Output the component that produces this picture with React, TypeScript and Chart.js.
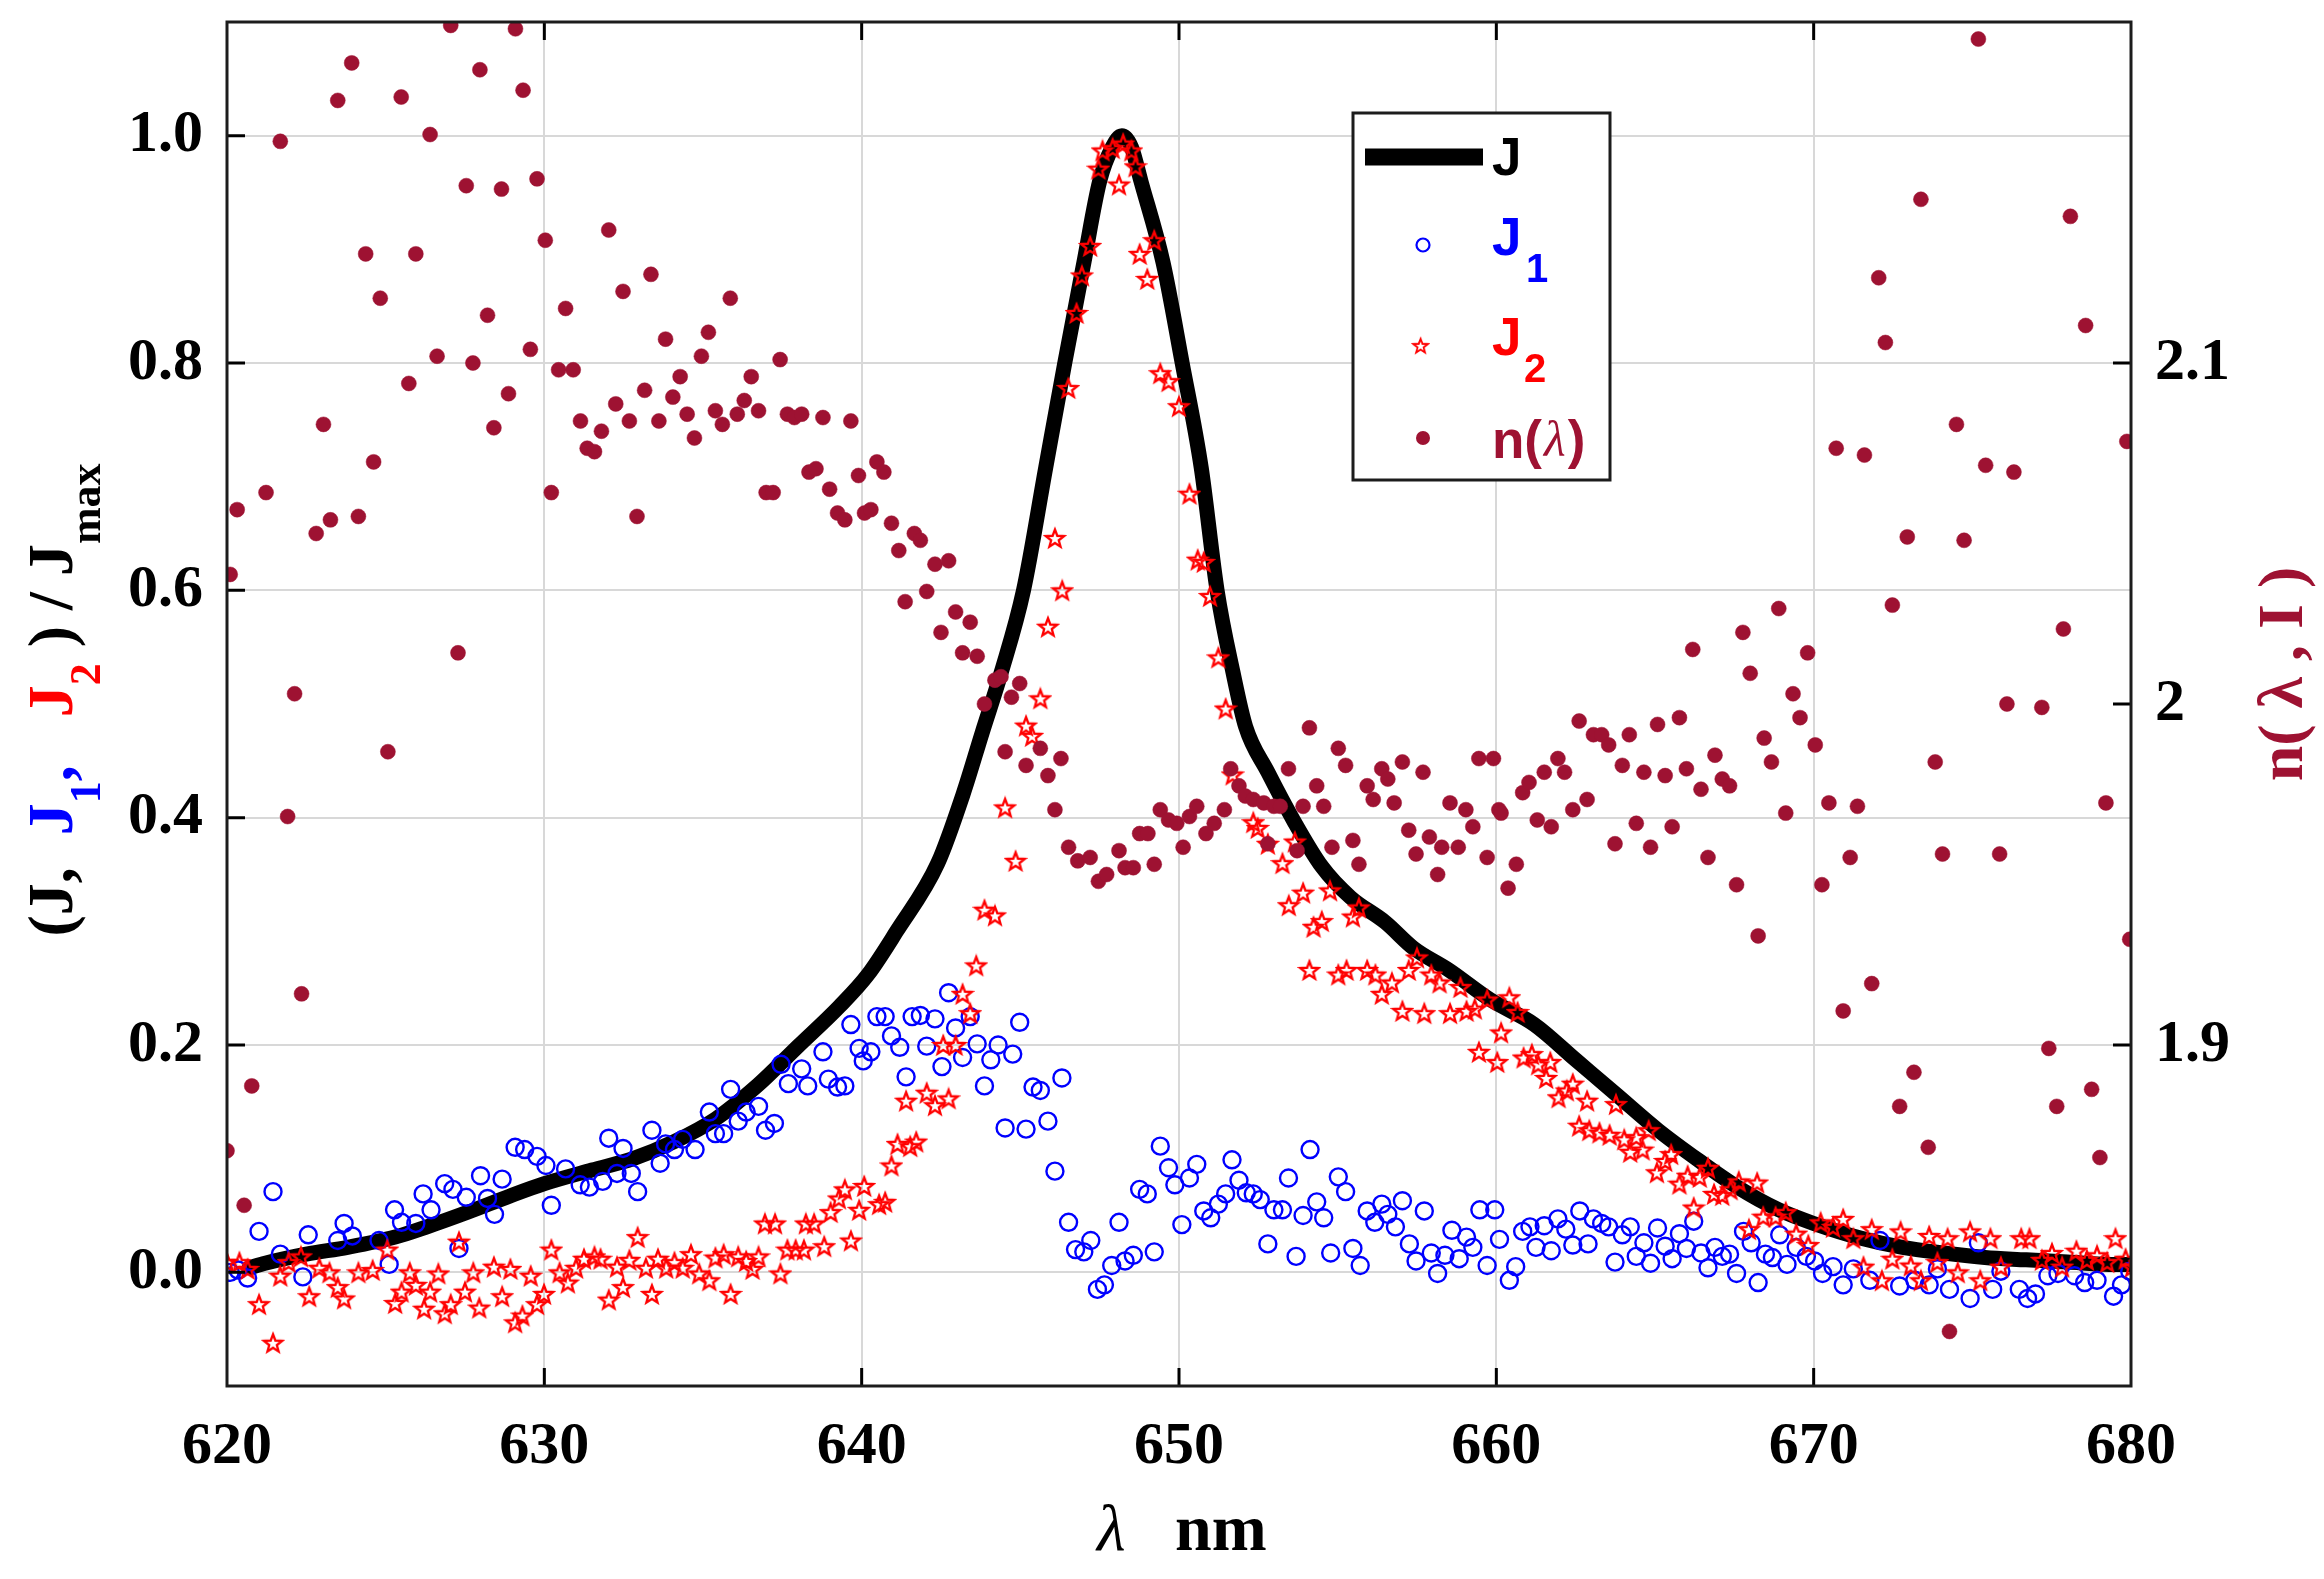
import { useEffect, useRef } from 'react';
import { Chart, registerables } from 'chart.js';

Chart.register(...registerables);

// J / Jmax
const J_CURVE: [number, number][] = [
  [620.7, 0.004], [621.2, 0.008], [622.5, 0.016], [623.8, 0.022], [625.3, 0.031], [626.3, 0.040],
  [627.6, 0.053], [628.9, 0.067], [630.0, 0.078], [631.5, 0.090], [632.8, 0.100], [634.1, 0.115],
  [635.4, 0.135], [636.7, 0.164], [638.0, 0.199], [639.3, 0.234], [640.2, 0.262], [641.1, 0.300],
  [642.4, 0.360], [643.2, 0.421], [643.8, 0.475], [644.4, 0.528], [645.1, 0.600], [645.8, 0.708],
  [646.4, 0.800], [647.0, 0.888], [647.5, 0.960], [647.9, 0.990], [648.2, 1.000], [648.5, 0.990],
  [648.8, 0.960], [649.5, 0.888], [650.1, 0.800], [650.7, 0.708], [651.2, 0.600], [651.7, 0.528],
  [652.1, 0.480], [652.8, 0.440], [653.6, 0.398], [654.5, 0.357], [655.4, 0.330], [656.5, 0.308],
  [657.4, 0.285], [658.5, 0.266], [659.8, 0.240], [661.2, 0.218], [662.5, 0.187], [663.8, 0.156],
  [665.1, 0.125], [666.4, 0.098], [667.6, 0.075], [668.9, 0.055], [670.0, 0.043], [671.5, 0.030],
  [672.8, 0.022], [674.1, 0.017], [675.4, 0.013], [676.7, 0.011], [678.0, 0.009], [679.3, 0.007],
  [680.0, 0.007],
];

// J1 / Jmax (blue open circles)
const J1_POINTS: [number, number][] = [
  [620.1, 0.000], [620.35, 0.002], [620.65, -0.005], [621.01, 0.036], [621.45, 0.071], [621.68, 0.016],
  [622.39, -0.004], [622.56, 0.033], [623.49, 0.028], [623.69, 0.043], [623.95, 0.032], [624.79, 0.028],
  [625.11, 0.007], [625.28, 0.055], [625.5, 0.044], [625.95, 0.043], [626.18, 0.069], [626.43, 0.055],
  [626.86, 0.078], [627.12, 0.073], [627.31, 0.021], [627.54, 0.066], [627.99, 0.085], [628.21, 0.065],
  [628.43, 0.051], [628.67, 0.082], [629.08, 0.110], [629.38, 0.108], [629.77, 0.102], [630.05, 0.094],
  [630.22, 0.059], [630.67, 0.091], [631.13, 0.077], [631.42, 0.075], [631.84, 0.080], [632.03, 0.118],
  [632.29, 0.087], [632.48, 0.109], [632.74, 0.087], [632.94, 0.071], [633.39, 0.125], [633.65, 0.096],
  [633.82, 0.113], [634.1, 0.108], [634.36, 0.117], [634.75, 0.108], [635.2, 0.141], [635.39, 0.122],
  [635.65, 0.122], [635.87, 0.161], [636.11, 0.133], [636.36, 0.141], [636.75, 0.146], [636.97, 0.125],
  [637.25, 0.131], [637.46, 0.183], [637.69, 0.166], [638.11, 0.179], [638.3, 0.164], [638.78, 0.194],
  [638.95, 0.170], [639.24, 0.163], [639.47, 0.164], [639.66, 0.218], [639.92, 0.197], [640.05, 0.186],
  [640.29, 0.194], [640.48, 0.225], [640.74, 0.225], [640.94, 0.208], [641.2, 0.198], [641.4, 0.172],
  [641.59, 0.225], [641.85, 0.226], [642.05, 0.199], [642.31, 0.223], [642.53, 0.181], [642.74, 0.246],
  [642.96, 0.215], [643.18, 0.189], [643.42, 0.225], [643.64, 0.201], [643.87, 0.164], [644.07, 0.187],
  [644.3, 0.200], [644.52, 0.127], [644.76, 0.192], [644.98, 0.220], [645.18, 0.126], [645.4, 0.163],
  [645.63, 0.160], [645.87, 0.133], [646.09, 0.089], [646.31, 0.171], [646.52, 0.044], [646.74, 0.020],
  [647.0, 0.018], [647.22, 0.028], [647.43, -0.015], [647.65, -0.011], [647.88, 0.006], [648.11, 0.044],
  [648.3, 0.010], [648.56, 0.015], [648.76, 0.073], [649.0, 0.069], [649.22, 0.018], [649.41, 0.111],
  [649.67, 0.092], [649.87, 0.077], [650.09, 0.042], [650.33, 0.083], [650.56, 0.095], [650.78, 0.054],
  [651.0, 0.048], [651.24, 0.060], [651.47, 0.069], [651.67, 0.099], [651.89, 0.081], [652.12, 0.070],
  [652.34, 0.069], [652.56, 0.064], [652.8, 0.025], [652.99, 0.055], [653.26, 0.055], [653.45, 0.083],
  [653.69, 0.014], [653.91, 0.050], [654.13, 0.108], [654.34, 0.062], [654.56, 0.048], [654.78, 0.017],
  [655.02, 0.084], [655.25, 0.071], [655.48, 0.021], [655.71, 0.006], [655.93, 0.054], [656.17, 0.044],
  [656.39, 0.060], [656.58, 0.051], [656.82, 0.040], [657.04, 0.063], [657.26, 0.025], [657.47, 0.010],
  [657.73, 0.054], [657.95, 0.017], [658.15, -0.001], [658.38, 0.015], [658.6, 0.037], [658.83, 0.012],
  [659.06, 0.031], [659.26, 0.022], [659.48, 0.055], [659.71, 0.006], [659.95, 0.055], [660.1, 0.029],
  [660.41, -0.007], [660.61, 0.005], [660.83, 0.036], [661.06, 0.040], [661.25, 0.022], [661.51, 0.041],
  [661.73, 0.019], [661.94, 0.047], [662.19, 0.038], [662.41, 0.024], [662.63, 0.054], [662.89, 0.025],
  [663.06, 0.047], [663.32, 0.043], [663.54, 0.040], [663.74, 0.009], [663.97, 0.033], [664.22, 0.040],
  [664.41, 0.014], [664.65, 0.026], [664.86, 0.008], [665.08, 0.039], [665.32, 0.023], [665.54, 0.012],
  [665.77, 0.034], [665.99, 0.021], [666.22, 0.045], [666.45, 0.017], [666.67, 0.004], [666.89, 0.022],
  [667.12, 0.014], [667.35, 0.016], [667.57, -0.001], [667.79, 0.036], [668.03, 0.026], [668.25, -0.009],
  [668.48, 0.016], [668.7, 0.013], [668.93, 0.033], [669.16, 0.007], [669.45, 0.022], [669.77, 0.014],
  [670.03, 0.010], [670.28, -0.001], [670.61, 0.005], [670.93, -0.011], [671.25, 0.003], [671.77, -0.007],
  [672.09, 0.028], [672.71, -0.012], [673.19, -0.007], [673.64, -0.011], [673.9, 0.003], [674.28, -0.015],
  [674.93, -0.023], [675.19, 0.026], [675.64, -0.015], [675.9, 0.001], [676.48, -0.015], [676.74, -0.023],
  [676.99, -0.019], [677.38, -0.003], [677.7, -0.001], [678.22, -0.003], [678.54, -0.009], [678.93, -0.007],
  [679.45, -0.021], [679.7, -0.011], [679.96, 0.001],
];

// J2 / Jmax (red open pentagrams)
const J2_POINTS: [number, number][] = [
  [620.0, 0.009], [620.39, 0.009], [620.65, 0.003], [621.01, -0.028], [621.45, -0.062], [621.68, -0.003],
  [621.94, 0.009], [622.33, 0.014], [622.59, -0.021], [622.91, 0.004], [623.23, 0.000], [623.49, -0.013],
  [623.69, -0.023], [624.14, 0.000], [624.59, 0.002], [625.05, 0.020], [625.3, -0.027], [625.5, -0.017],
  [625.76, 0.000], [625.95, -0.011], [626.21, -0.032], [626.4, -0.017], [626.66, -0.001], [626.86, -0.036],
  [627.05, -0.028], [627.31, 0.027], [627.5, -0.017], [627.76, 0.000], [627.95, -0.031], [628.41, 0.005],
  [628.67, -0.021], [628.93, 0.003], [629.08, -0.044], [629.31, -0.038], [629.57, -0.003], [629.77, -0.028],
  [629.99, -0.019], [630.22, 0.020], [630.48, 0.000], [630.74, -0.009], [631.0, 0.004], [631.25, 0.012],
  [631.58, 0.014], [631.77, 0.012], [632.03, -0.024], [632.29, 0.005], [632.48, -0.013], [632.68, 0.011],
  [632.94, 0.031], [633.2, 0.004], [633.39, -0.019], [633.58, 0.012], [633.84, 0.004], [634.1, 0.009],
  [634.36, 0.004], [634.62, 0.016], [634.88, -0.001], [635.2, -0.007], [635.39, 0.013], [635.65, 0.016],
  [635.87, -0.019], [636.11, 0.014], [636.36, 0.010], [636.56, 0.003], [636.75, 0.014], [636.95, 0.043],
  [637.27, 0.043], [637.44, -0.001], [637.66, 0.020], [637.92, 0.020], [638.18, 0.020], [638.24, 0.043],
  [638.5, 0.043], [638.82, 0.023], [639.02, 0.053], [639.28, 0.065], [639.47, 0.073], [639.66, 0.028],
  [639.92, 0.055], [640.08, 0.076], [640.55, 0.060], [640.74, 0.062], [640.94, 0.094], [641.13, 0.113],
  [641.4, 0.151], [641.53, 0.111], [641.72, 0.115], [642.05, 0.158], [642.31, 0.147], [642.57, 0.200],
  [642.74, 0.153], [642.96, 0.200], [643.18, 0.245], [643.42, 0.228], [643.61, 0.270], [643.87, 0.319],
  [644.2, 0.314], [644.52, 0.409], [644.85, 0.362], [645.18, 0.481], [645.37, 0.472], [645.63, 0.505],
  [645.87, 0.568], [646.09, 0.646], [646.32, 0.600], [646.51, 0.778], [646.77, 0.844], [646.94, 0.877],
  [647.2, 0.903], [647.46, 0.971], [647.59, 0.987], [647.91, 0.989], [648.11, 0.957], [648.24, 0.993],
  [648.5, 0.987], [648.63, 0.973], [648.76, 0.896], [649.0, 0.874], [649.22, 0.908], [649.41, 0.791],
  [649.67, 0.784], [650.0, 0.762], [650.33, 0.685], [650.59, 0.627], [650.78, 0.625], [650.98, 0.595],
  [651.24, 0.541], [651.47, 0.496], [651.69, 0.438], [652.34, 0.396], [652.48, 0.391], [652.8, 0.377],
  [653.26, 0.360], [653.46, 0.323], [653.65, 0.379], [653.91, 0.334], [654.11, 0.266], [654.24, 0.304],
  [654.5, 0.309], [654.76, 0.336], [655.02, 0.262], [655.28, 0.266], [655.48, 0.313], [655.67, 0.321],
  [655.93, 0.266], [656.19, 0.262], [656.39, 0.245], [656.71, 0.255], [657.04, 0.230], [657.24, 0.266],
  [657.5, 0.277], [657.73, 0.228], [657.95, 0.262], [658.21, 0.255], [658.54, 0.228], [658.87, 0.251],
  [659.06, 0.230], [659.32, 0.232], [659.45, 0.194], [659.71, 0.240], [660.03, 0.185], [660.15, 0.211],
  [660.41, 0.242], [660.67, 0.229], [660.86, 0.189], [661.12, 0.192], [661.32, 0.183], [661.57, 0.171],
  [661.7, 0.185], [661.96, 0.154], [662.22, 0.160], [662.41, 0.166], [662.61, 0.129], [662.86, 0.151],
  [662.93, 0.125], [663.25, 0.123], [663.57, 0.121], [663.77, 0.148], [664.03, 0.117], [664.22, 0.106],
  [664.41, 0.119], [664.61, 0.108], [664.8, 0.125], [665.06, 0.088], [665.32, 0.098], [665.51, 0.104],
  [665.77, 0.078], [666.03, 0.085], [666.22, 0.057], [666.41, 0.084], [666.67, 0.092], [666.86, 0.069],
  [667.12, 0.068], [667.38, 0.073], [667.64, 0.080], [667.96, 0.038], [668.22, 0.079], [668.41, 0.049],
  [668.8, 0.049], [669.12, 0.053], [669.45, 0.034], [669.83, 0.024], [670.22, 0.044], [670.61, 0.040],
  [670.93, 0.047], [671.25, 0.030], [671.57, 0.005], [671.83, 0.038], [672.15, -0.007], [672.48, 0.012],
  [672.74, 0.036], [673.06, 0.006], [673.38, -0.007], [673.64, 0.032], [673.9, 0.009], [674.22, 0.030],
  [674.54, 0.000], [674.93, 0.036], [675.25, -0.007], [675.57, 0.030], [675.9, 0.005], [676.54, 0.030],
  [676.8, 0.030], [677.19, 0.011], [677.51, 0.017], [677.83, 0.005], [678.28, 0.019], [678.61, 0.011],
  [678.93, 0.015], [679.25, 0.009], [679.51, 0.030], [679.83, 0.012], [680.03, 0.005],
];

// n(lambda, I) on the right axis (dark red dots)
const N_POINTS: [number, number][] = [
  [620.0, 1.869], [620.1, 2.038], [620.32, 2.057], [620.54, 1.853], [620.78, 1.888], [621.23, 2.062],
  [621.68, 2.165], [621.91, 1.967], [622.13, 2.003], [622.35, 1.915], [622.81, 2.050], [623.04, 2.082],
  [623.26, 2.054], [623.49, 2.177], [623.93, 2.188], [624.14, 2.055], [624.37, 2.132], [624.62, 2.071],
  [624.83, 2.119], [625.07, 1.986], [625.49, 2.178], [625.73, 2.094], [625.95, 2.132], [626.4, 2.167],
  [626.62, 2.102], [627.05, 2.199], [627.28, 2.015], [627.54, 2.152], [627.75, 2.100], [627.97, 2.186],
  [628.21, 2.114], [628.41, 2.081], [628.65, 2.151], [628.87, 2.091], [629.09, 2.198], [629.33, 2.180],
  [629.56, 2.104], [629.77, 2.154], [630.03, 2.136], [630.22, 2.062], [630.45, 2.098], [630.67, 2.116],
  [630.91, 2.098], [631.14, 2.083], [631.35, 2.075], [631.58, 2.074], [631.8, 2.080], [632.03, 2.139],
  [632.25, 2.088], [632.48, 2.121], [632.68, 2.083], [632.92, 2.055], [633.16, 2.092], [633.36, 2.126],
  [633.61, 2.083], [633.82, 2.107], [634.05, 2.090], [634.28, 2.096], [634.5, 2.085], [634.73, 2.078],
  [634.95, 2.102], [635.17, 2.109], [635.39, 2.086], [635.61, 2.082], [635.86, 2.119], [636.08, 2.085],
  [636.3, 2.089], [636.52, 2.096], [636.75, 2.086], [636.99, 2.062], [637.21, 2.062], [637.43, 2.101],
  [637.66, 2.085], [637.88, 2.084], [638.11, 2.085], [638.34, 2.068], [638.56, 2.069], [638.78, 2.084],
  [638.99, 2.063], [639.24, 2.056], [639.47, 2.054], [639.66, 2.083], [639.9, 2.067], [640.09, 2.056],
  [640.29, 2.057], [640.48, 2.071], [640.7, 2.068], [640.94, 2.053], [641.17, 2.045], [641.37, 2.030],
  [641.66, 2.050], [641.85, 2.048], [642.05, 2.033], [642.31, 2.041], [642.5, 2.021], [642.74, 2.042],
  [642.96, 2.027], [643.18, 2.015], [643.42, 2.024], [643.64, 2.014], [643.87, 2.000], [644.2, 2.007],
  [644.39, 2.008], [644.52, 1.986], [644.72, 2.002], [644.98, 2.006], [645.18, 1.982], [645.63, 1.987],
  [645.87, 1.979], [646.09, 1.969], [646.28, 1.984], [646.52, 1.958], [646.81, 1.954], [647.2, 1.955],
  [647.46, 1.948], [647.72, 1.950], [648.11, 1.957], [648.3, 1.952], [648.56, 1.952], [648.76, 1.962],
  [649.02, 1.962], [649.22, 1.953], [649.41, 1.969], [649.67, 1.966], [649.93, 1.965], [650.13, 1.958],
  [650.33, 1.967], [650.56, 1.970], [650.85, 1.962], [651.11, 1.965], [651.43, 1.969], [651.63, 1.981],
  [651.89, 1.976], [652.09, 1.973], [652.34, 1.972], [652.67, 1.971], [652.8, 1.959], [652.99, 1.970],
  [653.19, 1.970], [653.45, 1.981], [653.72, 1.957], [653.91, 1.970], [654.11, 1.993], [654.34, 1.976],
  [654.56, 1.970], [654.82, 1.958], [655.02, 1.987], [655.25, 1.982], [655.48, 1.960], [655.67, 1.953],
  [655.93, 1.976], [656.12, 1.972], [656.39, 1.981], [656.58, 1.978], [656.78, 1.971], [657.04, 1.983],
  [657.24, 1.963], [657.47, 1.956], [657.69, 1.980], [657.89, 1.961], [658.15, 1.950], [658.28, 1.958],
  [658.54, 1.971], [658.8, 1.958], [659.04, 1.969], [659.26, 1.964], [659.45, 1.984], [659.71, 1.955],
  [659.91, 1.984], [660.08, 1.969], [660.15, 1.968], [660.37, 1.946], [660.63, 1.953], [660.83, 1.974],
  [661.03, 1.977], [661.29, 1.966], [661.51, 1.980], [661.73, 1.964], [661.94, 1.984], [662.15, 1.980],
  [662.41, 1.969], [662.61, 1.995], [662.86, 1.972], [663.06, 1.991], [663.32, 1.991], [663.54, 1.988],
  [663.74, 1.959], [663.97, 1.982], [664.19, 1.991], [664.41, 1.965], [664.65, 1.980], [664.86, 1.958],
  [665.08, 1.994], [665.32, 1.979], [665.54, 1.964], [665.77, 1.996], [665.99, 1.981], [666.19, 2.016],
  [666.45, 1.975], [666.67, 1.955], [666.89, 1.985], [667.12, 1.978], [667.35, 1.976], [667.57, 1.947],
  [667.77, 2.021], [668.0, 2.009], [668.25, 1.932], [668.44, 1.990], [668.67, 1.983], [668.9, 2.028],
  [669.12, 1.968], [669.35, 2.003], [669.57, 1.996], [669.81, 2.015], [670.05, 1.988], [670.26, 1.947],
  [670.48, 1.971], [670.71, 2.075], [670.93, 1.910], [671.15, 1.955], [671.38, 1.970], [671.6, 2.073],
  [671.83, 1.918], [672.05, 2.125], [672.26, 2.106], [672.48, 2.029], [672.71, 1.882], [672.95, 2.049],
  [673.16, 1.892], [673.38, 2.148], [673.61, 1.870], [673.83, 1.983], [674.06, 1.956], [674.28, 1.816],
  [674.5, 2.082], [674.74, 2.048], [675.19, 2.195], [675.42, 2.070], [675.86, 1.956], [676.09, 2.000],
  [676.31, 2.068], [677.19, 1.999], [677.41, 1.899], [677.66, 1.882], [677.87, 2.022], [678.09, 2.143],
  [678.57, 2.111], [678.76, 1.887], [679.02, 1.867], [679.21, 1.971], [679.87, 2.077], [679.96, 1.931],
];

const X_TICKS = [620, 630, 640, 650, 660, 670, 680];
const LEFT_TICKS = [0, 0.2, 0.4, 0.6, 0.8, 1.0];
const RIGHT_TICKS = [1.9, 2.0, 2.1];

const BLUE = '#0000ff';
const RED = '#ff0000';
const MAROON = '#9e1232';
const GRID = '#d8d8d8';
const SERIF = '"Liberation Serif", "Times New Roman", serif';
const SANS = '"Liberation Sans", Arial, sans-serif';

function makeStar(size: number, color: string): HTMLCanvasElement {
  const c = document.createElement('canvas');
  c.width = size;
  c.height = size;
  const ctx = c.getContext('2d')!;
  const cx = size / 2;
  const R = size / 2 - 2.5;
  const r = R * 0.42;
  ctx.beginPath();
  for (let i = 0; i < 10; i++) {
    const rad = i % 2 === 0 ? R : r;
    const a = -Math.PI / 2 + (i * Math.PI) / 5;
    const px = cx + rad * Math.cos(a);
    const py = cx + 1 + rad * Math.sin(a);
    if (i === 0) ctx.moveTo(px, py);
    else ctx.lineTo(px, py);
  }
  ctx.closePath();
  ctx.lineWidth = 2.3;
  ctx.strokeStyle = color;
  ctx.lineJoin = 'miter';
  ctx.stroke();
  return c;
}

type Seg = { t: string; color: string; font: string; dy?: number };

function drawSegments(ctx: CanvasRenderingContext2D, segs: Seg[]) {
  let total = 0;
  for (const s of segs) {
    ctx.font = s.font;
    total += ctx.measureText(s.t).width;
  }
  let x = -total / 2;
  for (const s of segs) {
    ctx.font = s.font;
    ctx.fillStyle = s.color;
    ctx.fillText(s.t, x, s.dy ?? 0);
    x += ctx.measureText(s.t).width;
  }
}

const overlayPlugin = (star: HTMLCanvasElement) => ({
  id: 'matlabOverlay',
  afterDatasetsDraw(chart: Chart) {
    const { ctx, chartArea: a } = chart;
    const xs = chart.scales.x;
    const yl = chart.scales.y;
    const yr = chart.scales.yn;
    ctx.save();
    ctx.strokeStyle = '#000';
    ctx.lineWidth = 3;
    ctx.beginPath();
    const tl = 18;
    for (const v of X_TICKS.slice(1, -1)) {
      const px = xs.getPixelForValue(v);
      ctx.moveTo(px, a.bottom);
      ctx.lineTo(px, a.bottom - tl);
      ctx.moveTo(px, a.top);
      ctx.lineTo(px, a.top + tl);
    }
    for (const v of LEFT_TICKS) {
      const py = yl.getPixelForValue(v);
      ctx.moveTo(a.left, py);
      ctx.lineTo(a.left + tl, py);
    }
    for (const v of RIGHT_TICKS) {
      const py = yr.getPixelForValue(v);
      ctx.moveTo(a.right, py);
      ctx.lineTo(a.right - tl, py);
    }
    ctx.stroke();
    ctx.strokeStyle = '#1c1c1c';
    ctx.strokeRect(a.left, a.top, a.right - a.left, a.bottom - a.top);
    ctx.restore();
  },
  afterDraw(chart: Chart) {
    const { ctx, chartArea: a } = chart;
    const midY = (a.top + a.bottom) / 2;
    ctx.save();
    ctx.textBaseline = 'alphabetic';
    ctx.textAlign = 'left';

    // left axis title
    const main = `bold 64px ${SERIF}`;
    const sub = `bold 44px ${SERIF}`;
    ctx.save();
    ctx.translate(72, midY - 4);
    ctx.rotate(-Math.PI / 2);
    drawSegments(ctx, [
      { t: '(J,  ', color: '#000', font: main },
      { t: 'J', color: BLUE, font: main },
      { t: '1', color: BLUE, font: sub, dy: 28 },
      { t: ',   ', color: BLUE, font: main },
      { t: 'J', color: RED, font: main },
      { t: '2', color: RED, font: sub, dy: 28 },
      { t: ' ) / ', color: '#000', font: main },
      { t: 'J', color: '#000', font: main },
      { t: 'max', color: '#000', font: sub, dy: 28 },
    ]);
    ctx.restore();

    // right axis title
    ctx.save();
    ctx.translate(2302, midY - 30);
    ctx.rotate(-Math.PI / 2);
    drawSegments(ctx, [{ t: 'n( λ , I )', color: MAROON, font: main }]);
    ctx.restore();

    // x axis title
    ctx.fillStyle = '#000';
    ctx.font = `italic 66px ${SERIF}`;
    ctx.fillText('λ', 1097, 1550);
    ctx.font = `bold 66px ${SERIF}`;
    ctx.fillText('nm', 1175, 1550);

    // legend
    const bx = 1353, by = 113, bw = 257, bh = 367;
    ctx.fillStyle = '#fff';
    ctx.fillRect(bx, by, bw, bh);
    ctx.lineWidth = 3;
    ctx.strokeStyle = '#1c1c1c';
    ctx.strokeRect(bx, by, bw, bh);

    const mx = 1423;
    const tx = 1492;
    const lf = `bold 53px ${SANS}`;
    const sf = `bold 40px ${SANS}`;

    ctx.strokeStyle = '#000';
    ctx.lineWidth = 17;
    ctx.beginPath();
    ctx.moveTo(1365, 157);
    ctx.lineTo(1483, 157);
    ctx.stroke();
    ctx.font = lf;
    ctx.fillStyle = '#000';
    ctx.fillText('J', tx, 175);

    ctx.strokeStyle = BLUE;
    ctx.lineWidth = 2.2;
    ctx.beginPath();
    ctx.arc(mx, 245, 6.5, 0, Math.PI * 2);
    ctx.stroke();
    ctx.fillStyle = BLUE;
    ctx.font = lf;
    ctx.fillText('J', tx, 255);
    ctx.font = sf;
    ctx.fillText('1', tx + 34, 282);

    ctx.drawImage(star, mx - star.width / 2, 348 - star.height / 2, star.width * 0.8, star.height * 0.8);
    ctx.fillStyle = RED;
    ctx.font = lf;
    ctx.fillText('J', tx, 355);
    ctx.font = sf;
    ctx.fillText('2', tx + 32, 382);

    ctx.fillStyle = MAROON;
    ctx.beginPath();
    ctx.arc(mx, 438, 7, 0, Math.PI * 2);
    ctx.fill();
    ctx.font = lf;
    ctx.fillText('n(', tx, 458);
    let w = ctx.measureText('n(').width;
    ctx.font = `italic 50px ${SERIF}`;
    ctx.fillText('λ', tx + w + 2, 456);
    w += ctx.measureText('λ').width + 4;
    ctx.font = lf;
    ctx.fillText(')', tx + w, 458);

    ctx.restore();
  },
});

export default function App(): React.JSX.Element {
  const canvasRef = useRef<HTMLCanvasElement>(null);

  useEffect(() => {
    if (!canvasRef.current) return;
    const star = makeStar(24, RED);
    const tickFont = { family: SERIF, size: 60, weight: 'bold' as const };
    const toXY = (pts: [number, number][]) => pts.map(([x, y]) => ({ x, y }));
    // fixed axis bands so the plot box lands where the original has it
    const fixWidth = (w: number) => (s: any) => { s.width = w; s.paddingTop = 0; s.paddingBottom = 0; };

    const chart = new Chart(canvasRef.current, {
      type: 'scatter',
      data: {
        datasets: [
          {
            label: 'n(λ)',
            data: toXY(N_POINTS),
            yAxisID: 'yn',
            pointStyle: 'circle',
            pointRadius: 7.5,
            pointBackgroundColor: MAROON,
            pointBorderColor: MAROON,
            pointBorderWidth: 0.5,
            clip: 0,
            order: 1,
          },
          {
            label: 'J2',
            data: toXY(J2_POINTS),
            yAxisID: 'y',
            pointStyle: star,
            pointRadius: 9,
            clip: 0,
            order: 2,
          },
          {
            label: 'J1',
            data: toXY(J1_POINTS),
            yAxisID: 'y',
            pointStyle: 'circle',
            pointRadius: 8.5,
            pointBorderColor: BLUE,
            pointBackgroundColor: 'rgba(0,0,0,0)',
            pointBorderWidth: 2.4,
            clip: 0,
            order: 3,
          },
          {
            type: 'line',
            label: 'J',
            data: toXY(J_CURVE),
            yAxisID: 'y',
            showLine: true,
            borderColor: '#000',
            borderWidth: 15,
            borderJoinStyle: 'round',
            borderCapStyle: 'round',
            cubicInterpolationMode: 'monotone',
            pointRadius: 0,
            fill: false,
            clip: 0,
            order: 4,
          },
        ],
      },
      options: {
        animation: false,
        responsive: true,
        maintainAspectRatio: false,
        devicePixelRatio: 1,
        layout: { padding: { top: 22, left: 0, right: 0, bottom: 0 } },
        plugins: { legend: { display: false }, tooltip: { enabled: false } },
        scales: {
          x: {
            type: 'linear',
            min: 620,
            max: 680,
            afterBuildTicks: (s: any) => { s.ticks = X_TICKS.map((value) => ({ value })); },
            afterFit: (s: any) => { s.height = 193; s.paddingLeft = 0; s.paddingRight = 0; },
            grid: { color: GRID, lineWidth: 2, drawTicks: false },
            border: { display: false },
            ticks: { color: '#000', font: tickFont, padding: 25, maxRotation: 0, callback: (v: any) => String(v) },
          },
          y: {
            type: 'linear',
            position: 'left',
            min: -0.1,
            max: 1.1,
            afterBuildTicks: (s: any) => { s.ticks = LEFT_TICKS.map((value) => ({ value })); },
            afterFit: fixWidth(227),
            grid: { color: GRID, lineWidth: 2, drawTicks: false },
            border: { display: false },
            ticks: { color: '#000', font: tickFont, padding: 24, callback: (v: any) => Number(v).toFixed(1) },
          },
          yn: {
            type: 'linear',
            position: 'right',
            min: 1.8,
            max: 2.2,
            afterBuildTicks: (s: any) => { s.ticks = RIGHT_TICKS.map((value) => ({ value })); },
            afterFit: fixWidth(193),
            grid: { display: false, drawTicks: false },
            border: { display: false },
            ticks: { color: '#000', font: tickFont, padding: 24, callback: (v: any) => String(Math.round(Number(v) * 10) / 10) },
          },
        },
      },
      plugins: [overlayPlugin(star)],
    } as any);

    return () => {
      chart.destroy();
    };
  }, []);

  return (
    <div style={{ position: 'fixed', left: 0, top: 0, width: 2324, height: 1579, background: '#fff' }}>
      <canvas ref={canvasRef} />
    </div>
  );
}
